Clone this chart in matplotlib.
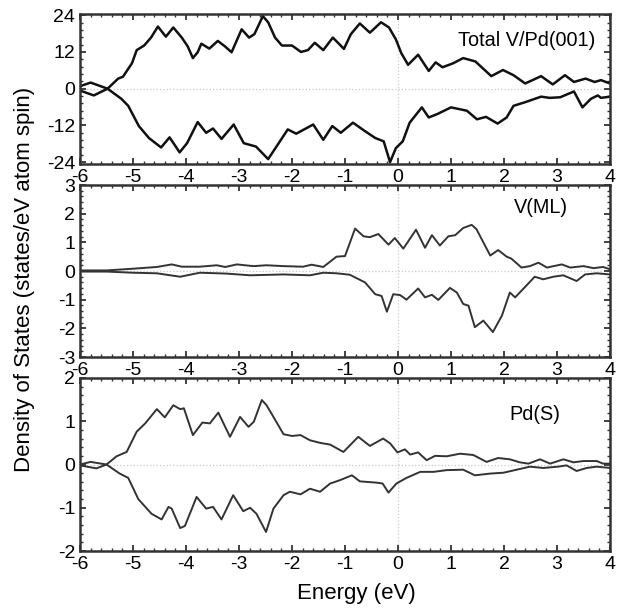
import matplotlib
matplotlib.use("Agg")
import matplotlib.pyplot as plt
from matplotlib.ticker import MultipleLocator

plt.rcParams['font.family'] = ['Liberation Sans', 'DejaVu Sans']
plt.rcParams['axes.unicode_minus'] = False

# ---------------- data ----------------
total_up_E = [-6.0, -5.8, -5.48, -5.28, -5.19, -5.02, -4.93, -4.79, -4.66, -4.53, -4.38, -4.24, -4.08, -3.97,
              -3.87, -3.78, -3.71, -3.56, -3.4, -3.27, -3.14, -2.95, -2.81, -2.71, -2.55, -2.45, -2.32, -2.19,
              -2.0, -1.83, -1.7, -1.57, -1.41, -1.23, -1.02, -0.89, -0.72, -0.53, -0.32, -0.17, -0.04, 0.06,
              0.19, 0.38, 0.58, 0.71, 0.84, 1.04, 1.23, 1.46, 1.76, 1.98, 2.18, 2.4, 2.7, 2.92, 3.15, 3.32,
              3.54, 3.71, 3.83, 4.0]
total_up = [0.8, 2.0, 0.0, 3.3, 3.9, 8.3, 12.6, 14.1, 16.7, 20.3, 17.0, 20.0, 16.7, 13.9,
            10.0, 11.9, 14.7, 13.1, 15.6, 13.9, 11.9, 19.4, 16.7, 17.8, 23.7, 21.7, 16.7, 14.1,
            14.1, 12.0, 12.6, 15.0, 12.6, 16.7, 13.0, 17.8, 21.3, 18.3, 21.7, 20.0, 16.1, 11.7,
            7.8, 11.1, 5.8, 8.6, 7.0, 8.3, 10.0, 8.9, 4.1, 6.1, 4.4, 1.7, 4.1, 1.4, 4.4, 2.2,
            3.3, 2.2, 2.8, 1.7]

total_dn_E = [-6.0, -5.74, -5.48, -5.22, -5.09, -4.89, -4.7, -4.47, -4.31, -4.12, -3.98, -3.78, -3.62, -3.49,
              -3.33, -3.1, -2.91, -2.68, -2.45, -2.27, -2.08, -1.92, -1.6, -1.41, -1.24, -1.08, -0.85, -0.62,
              -0.43, -0.27, -0.15, -0.04, 0.09, 0.22, 0.45, 0.58, 0.74, 1.0, 1.3, 1.49, 1.66, 1.88, 2.05,
              2.18, 2.4, 2.7, 2.86, 3.06, 3.32, 3.48, 3.64, 3.77, 3.83, 4.0]
total_dn = [-0.6, -2.2, 0.0, -3.3, -5.6, -12.2, -16.1, -19.2, -15.9, -20.8, -17.8, -10.9, -14.4, -13.0,
            -16.4, -11.7, -17.8, -18.9, -23.0, -18.3, -13.3, -14.7, -11.7, -16.7, -12.2, -14.4, -11.1, -13.9,
            -16.1, -17.2, -24.0, -19.4, -17.2, -11.1, -6.1, -9.4, -8.3, -6.1, -7.2, -10.0, -9.2, -11.4, -9.4,
            -5.6, -4.4, -2.6, -3.0, -2.8, -0.9, -6.1, -3.3, -2.2, -3.0, -2.6]

vml_up_E = [-6.0, -5.5, -5.0, -4.55, -4.27, -4.08, -3.74, -3.42, -3.26, -3.04, -2.73, -2.48, -2.16, -1.79,
            -1.63, -1.41, -1.16, -1.0, -0.81, -0.65, -0.53, -0.37, -0.18, -0.06, 0.1, 0.34, 0.51, 0.64,
            0.79, 0.95, 1.08, 1.23, 1.39, 1.48, 1.74, 1.89, 2.05, 2.14, 2.33, 2.49, 2.65, 2.81, 3.09,
            3.25, 3.5, 3.69, 3.87, 4.0]
vml_up = [0.02, 0.02, 0.08, 0.14, 0.23, 0.15, 0.15, 0.2, 0.14, 0.23, 0.17, 0.2, 0.17, 0.15,
          0.22, 0.14, 0.5, 0.52, 1.48, 1.21, 1.18, 1.29, 0.92, 1.15, 0.78, 1.44, 0.81, 1.25,
          0.89, 1.21, 1.25, 1.5, 1.61, 1.46, 0.54, 0.73, 0.5, 0.43, 0.12, 0.17, 0.29, 0.12, 0.23,
          0.12, 0.17, 0.1, 0.14, 0.06]

vml_dn_E = [-6.0, -5.5, -5.0, -4.55, -4.11, -3.74, -3.24, -2.79, -2.16, -1.66, -1.41, -1.16, -0.91, -0.62,
            -0.43, -0.31, -0.21, -0.09, 0.04, 0.16, 0.38, 0.51, 0.64, 0.76, 0.98, 1.11, 1.23, 1.33, 1.45,
            1.61, 1.79, 1.96, 2.11, 2.21, 2.36, 2.58, 2.74, 2.93, 3.12, 3.37, 3.53, 3.75, 4.0]
vml_dn = [-0.02, -0.02, -0.06, -0.08, -0.2, -0.06, -0.09, -0.15, -0.12, -0.15, -0.06, -0.08, -0.13, -0.4,
          -0.81, -0.87, -1.42, -0.81, -0.84, -1.0, -0.61, -0.92, -0.83, -1.01, -0.59, -0.75, -1.15, -1.21, -1.96,
          -1.73, -2.13, -1.56, -0.75, -0.92, -0.63, -0.2, -0.29, -0.2, -0.15, -0.35, -0.12, -0.08, -0.12]

pd_up_E = [-6.0, -5.8, -5.5, -5.31, -5.12, -4.93, -4.77, -4.55, -4.4, -4.24, -4.11, -4.04, -3.87, -3.69,
           -3.55, -3.39, -3.17, -2.98, -2.82, -2.72, -2.57, -2.48, -2.35, -2.16, -2.0, -1.84, -1.66, -1.47,
           -1.28, -1.03, -0.75, -0.53, -0.28, -0.15, -0.01, 0.13, 0.23, 0.38, 0.54, 0.7, 0.92, 1.17, 1.42,
           1.67, 1.89, 2.11, 2.3, 2.46, 2.68, 2.87, 3.12, 3.31, 3.5, 3.75, 3.87, 4.0]
pd_up = [0.0, 0.06, 0.0, 0.19, 0.29, 0.76, 0.95, 1.28, 1.09, 1.37, 1.28, 1.3, 0.68, 0.97,
         0.95, 1.2, 0.64, 1.1, 0.87, 0.99, 1.49, 1.37, 1.1, 0.7, 0.66, 0.68, 0.56, 0.5,
         0.46, 0.29, 0.64, 0.43, 0.6, 0.49, 0.28, 0.35, 0.23, 0.28, 0.1, 0.2, 0.19, 0.25, 0.22,
         0.06, 0.15, 0.12, 0.05, 0.02, 0.12, 0.02, 0.12, 0.05, 0.08, 0.08, 0.02, 0.02]

pd_dn_E = [-6.0, -5.69, -5.5, -5.25, -5.09, -4.9, -4.65, -4.46, -4.33, -4.27, -4.11, -4.02, -3.8, -3.62,
           -3.49, -3.33, -3.11, -2.92, -2.79, -2.67, -2.49, -2.35, -2.16, -2.04, -1.84, -1.66, -1.47, -1.28,
           -1.09, -0.87, -0.72, -0.4, -0.29, -0.18, -0.03, 0.16, 0.42, 0.67, 0.92, 1.23, 1.45, 1.74, 1.99,
           2.24, 2.49, 2.74, 3.02, 3.18, 3.37, 3.56, 3.75, 4.0]
pd_dn = [-0.02, -0.09, 0.0, -0.21, -0.31, -0.8, -1.14, -1.27, -0.98, -1.02, -1.47, -1.42, -0.75, -1.02,
         -0.98, -1.27, -0.71, -1.08, -1.0, -1.14, -1.56, -1.02, -0.71, -0.63, -0.69, -0.56, -0.63, -0.44,
         -0.36, -0.25, -0.39, -0.42, -0.44, -0.65, -0.44, -0.31, -0.17, -0.17, -0.13, -0.12, -0.25, -0.21, -0.19,
         -0.12, -0.05, -0.08, -0.05, -0.02, -0.15, -0.08, -0.05, -0.08]

panel_labels = ["Total V/Pd(001)", "V(ML)", "Pd(S)"]
x_ticks = [-6, -5, -4, -3, -2, -1, 0, 1, 2, 3, 4]

# ---------------- figure ----------------
W, H = 634, 610
fig = plt.figure(figsize=(W / 100, H / 100), dpi=100)

def px_axes(left, top, right, bottom):
    return fig.add_axes([left / W, 1 - bottom / H, (right - left) / W, (bottom - top) / H])

ax1 = px_axes(80, 14, 610, 164)
ax2 = px_axes(80, 185, 610, 357)
ax3 = px_axes(80, 378, 610, 551)

spine_c = '#333333'

def style(ax, ylim, ymaj, ymin):
    ax.set_xlim(-6, 4)
    ax.set_ylim(*ylim)
    ax.set_xticks(x_ticks)
    ax.xaxis.set_minor_locator(MultipleLocator(0.2))
    ax.yaxis.set_major_locator(MultipleLocator(ymaj))
    ax.yaxis.set_minor_locator(MultipleLocator(ymin))
    ax.tick_params(which='both', direction='in', top=True, right=True, color=spine_c,
                   labelsize=14)
    ax.tick_params(axis='x', pad=3.5)
    ax.tick_params(axis='y', pad=3.5)
    ax.tick_params(which='major', length=4.5, width=1.3)
    ax.tick_params(which='minor', length=2.5, width=1.0)
    for s in ax.spines.values():
        s.set_linewidth(1.8)
        s.set_color(spine_c)
    ax.axhline(0, color='#c8c8c8', lw=0.9, ls=':', zorder=0)
    ax.axvline(0, color='#c8c8c8', lw=0.9, ls=':', zorder=0)

style(ax1, (-24.6, 24.4), 12, 2.4)
style(ax2, (-3, 3), 1, 0.2)
style(ax3, (-2, 2), 1, 0.2)

ax1.plot(total_up_E, total_up, color='#111111', lw=1.8, solid_joinstyle='round')
ax1.plot(total_dn_E, total_dn, color='#111111', lw=1.8, solid_joinstyle='round')
ax2.plot(vml_up_E, vml_up, color='#333333', lw=1.4, solid_joinstyle='round')
ax2.plot(vml_dn_E, vml_dn, color='#333333', lw=1.4, solid_joinstyle='round')
ax3.plot(pd_up_E, pd_up, color='#333333', lw=1.4, solid_joinstyle='round')
ax3.plot(pd_dn_E, pd_dn, color='#333333', lw=1.4, solid_joinstyle='round')

ax1.text(0.972, 0.825, panel_labels[0], transform=ax1.transAxes, ha='right', va='center', fontsize=14.3)
ax2.text(0.92, 0.87, panel_labels[1], transform=ax2.transAxes, ha='right', va='center', fontsize=14.3)
ax3.text(0.906, 0.79, panel_labels[2], transform=ax3.transAxes, ha='right', va='center', fontsize=14.3)

fig.text(25 / W, 1 - 279 / H, "Density of States (states/eV atom spin)", rotation=90,
         ha='center', va='center', fontsize=16)
fig.text(356 / W, 1 - 594 / H, "Energy (eV)", ha='center', va='center', fontsize=16)

fig.savefig("out.png", dpi=100)
